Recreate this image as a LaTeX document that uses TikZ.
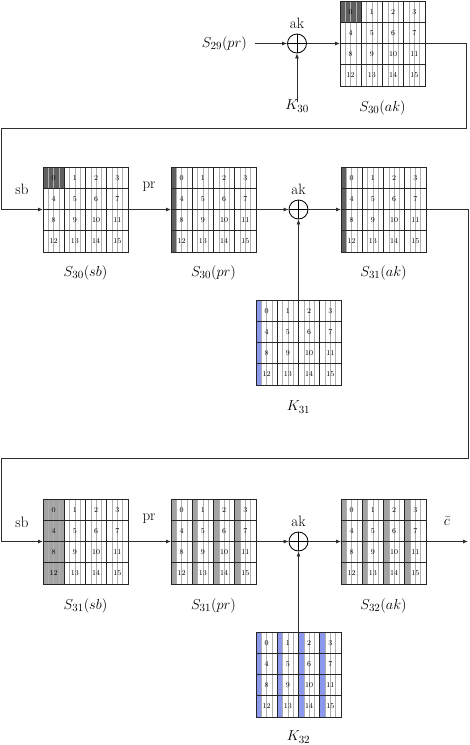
\documentclass[tikz,border=0pt]{standalone}
\usetikzlibrary{arrows.meta}
\definecolor{darkcell}{RGB}{96,96,96}
\definecolor{midcell}{RGB}{163,163,163}
\definecolor{keyblue}{RGB}{140,152,238}
\definecolor{bitline}{RGB}{175,175,175}
\definecolor{wire}{RGB}{45,45,45}
\newcommand\cellsz{21.25}
\newcommand\fillcell[2]{\fill[#1] ({mod(#2,4)*\cellsz},{int(#2/4)*\cellsz}) rectangle +(\cellsz,\cellsz);}
\newcommand\fillstrip[2]{\fill[#1] ({mod(#2,4)*\cellsz},{int(#2/4)*\cellsz}) rectangle +(\cellsz/4,\cellsz);}
\newcommand\gridbody[1]{%
  \foreach \i in {1,2,3,5,6,7,9,10,11,13,14,15}
    \draw[bitln] ({\i*\cellsz/4},0) -- ({\i*\cellsz/4},85);
  \foreach \k in {1,2,3} {
    \draw[cellln] ({\k*\cellsz},0) -- ({\k*\cellsz},85);
    \draw[cellln] (0,{\k*\cellsz}) -- (85,{\k*\cellsz});
  }
  \node[gridbox] (#1) at (42.5,42.5) {};
  \foreach \n in {0,...,15}
    \node[num] (#1-\n) at ({mod(\n,4)*\cellsz+\cellsz/2},{int(\n/4)*\cellsz+\cellsz/2}) {\n};
}
\tikzset{
  bitln/.style={draw=bitline, line width=0.45pt},
  cellln/.style={draw=black!85, line width=0.6pt},
  gridbox/.style={draw=black!85, line width=0.7pt, minimum size=85pt, inner sep=0pt, outer sep=0pt},
  num/.style={font=\fontsize{7.5}{8}\selectfont, inner sep=0pt},
  lbl/.style={font=\fontsize{15}{18}\selectfont, inner sep=1pt},
  wirel/.style={draw=wire, line width=0.8pt},
  arr/.style={wirel, -{Latex[length=5pt,width=4pt]}},
  xorn/.style={circle, draw=black, line width=0.8pt, minimum size=19pt, inner sep=0pt},
}
\begin{document}
\begin{tikzpicture}[x=1pt,y=-1pt]
\useasboundingbox (0,0) rectangle (470,745);
% ---------- grids ----------
\begin{scope}[shift={(340,1)}]
  \fillcell{darkcell}{0}
  \gridbody{s30ak}
\end{scope}
\begin{scope}[shift={(43,167)}]
  \fillcell{darkcell}{0}
  \gridbody{s30sb}
\end{scope}
\begin{scope}[shift={(171,167)}]
  \foreach \c in {0,4,8,12} {\fillstrip{darkcell}{\c}}
  \gridbody{s30pr}
\end{scope}
\begin{scope}[shift={(341,167)}]
  \foreach \c in {0,4,8,12} {\fillstrip{darkcell}{\c}}
  \gridbody{s31ak}
\end{scope}
\begin{scope}[shift={(256,300)}]
  \foreach \c in {0,4,8,12} {\fillstrip{keyblue}{\c}}
  \gridbody{k31}
\end{scope}
\begin{scope}[shift={(43,499)}]
  \foreach \c in {0,4,8,12} {\fillcell{midcell}{\c}}
  \gridbody{s31sb}
\end{scope}
\begin{scope}[shift={(171,499)}]
  \foreach \c in {0,...,15} {\fillstrip{midcell}{\c}}
  \gridbody{s31pr}
\end{scope}
\begin{scope}[shift={(341,499)}]
  \foreach \c in {0,...,15} {\fillstrip{midcell}{\c}}
  \gridbody{s32ak}
\end{scope}
\begin{scope}[shift={(256,632)}]
  \foreach \c in {0,...,15} {\fillstrip{keyblue}{\c}}
  \gridbody{k32}
\end{scope}
% ---------- xor nodes ----------
\node[xorn] (x1) at (297,43.5) {};
\node[xorn] (x2) at (298.5,209.5) {};
\node[xorn] (x3) at (298.5,541.5) {};
\foreach \x in {x1,x2,x3} {
  \draw[line width=0.8pt] (\x.north) -- (\x.south) (\x.west) -- (\x.east);
}
% ---------- labels ----------
\node[lbl] (ak1) at (297,23) {ak};
\node[lbl] (ak2) at (298.5,189) {ak};
\node[lbl] (ak3) at (298.5,521) {ak};
\node[lbl, anchor=east] (s29) at (248,43.5) {$S_{29}(pr)$};
\node[lbl] (k30) at (297,106) {$K_{30}$};
\node[lbl] (l30ak) at (382.5,108) {$S_{30}(ak)$};
\node[lbl] (sb1) at (22,189) {sb};
\node[lbl] (pr1) at (149,187) {pr};
\node[lbl] (l30sb) at (85.5,273) {$S_{30}(sb)$};
\node[lbl] (l30pr) at (213.5,273) {$S_{30}(pr)$};
\node[lbl] (l31ak) at (383.5,273) {$S_{31}(ak)$};
\node[lbl] (lk31) at (298.5,407) {$K_{31}$};
\node[lbl] (sb2) at (22,522) {sb};
\node[lbl] (pr2) at (149,519) {pr};
\node[lbl] (l31sb) at (85.5,606) {$S_{31}(sb)$};
\node[lbl] (l31pr) at (213.5,606) {$S_{31}(pr)$};
\node[lbl] (l32ak) at (383.5,606) {$S_{32}(ak)$};
\node[lbl] (lk32) at (298.5,737) {$K_{32}$};
\node[lbl] (ct) at (447,521) {$\widetilde{c}$};
% ---------- coordinates ----------
\coordinate (e1) at (466,128);
\coordinate (w1) at (1,128);
\coordinate (e2) at (468,458);
\coordinate (w2) at (1,458);
\coordinate (out) at (468,541.5);
% ---------- connectors ----------
\draw[arr] ([xshift=7pt]s29.east) -- (x1.west);
\draw[arr] ([yshift=-3pt]k30.north) -- (x1.south);
\draw[arr] (x1.east) -- (x1 -| s30ak.west);
\draw[wirel] (x1 -| s30ak.east) -| (e1) -- (w1);
\draw[arr] (w1) |- (s30sb.west);
\draw[arr] (s30sb.east) -- (s30pr.west);
\draw[arr] (s30pr.east) -- (x2.west);
\draw[arr] (k31.north) -- (x2.south);
\draw[arr] (x2.east) -- (s31ak.west);
\draw[wirel] (s31ak.east) -| (e2) -- (w2);
\draw[arr] (w2) |- (s31sb.west);
\draw[arr] (s31sb.east) -- (s31pr.west);
\draw[arr] (s31pr.east) -- (x3.west);
\draw[arr] (k32.north) -- (x3.south);
\draw[arr] (x3.east) -- (s32ak.west);
\draw[arr] (s32ak.east) -- (out);
\end{tikzpicture}
\end{document}
